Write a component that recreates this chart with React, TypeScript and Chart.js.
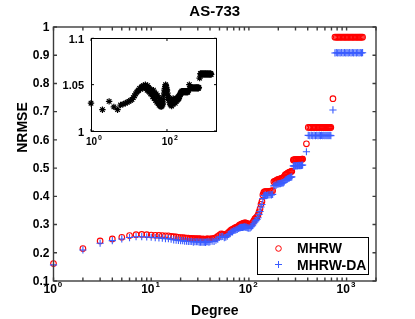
import React, { useEffect, useRef } from 'react';
import { Chart, registerables } from 'chart.js';

Chart.register(...registerables);

// ---------- data ----------
const degrees = [
  1, 2, 3, 4, 5, 6, 7, 8, 9, 10,
  11, 12, 13, 14, 15, 16, 17, 18, 19, 20,
  21, 22, 23, 24, 25, 26, 27, 28, 29, 30,
  31, 32, 33, 34, 35, 36, 37, 38, 39, 40,
  42, 44, 46, 48, 50, 52, 54, 56, 58, 60,
  62, 64, 66, 68, 70, 72, 74, 76, 78, 80,
  82, 84, 86, 88, 90, 92, 94, 96, 98, 100,
  103, 106, 109, 112, 115, 118, 121, 124, 127, 130,
  133, 136, 139, 142, 145, 148, 151, 155, 160, 165,
  170, 175, 180, 185, 190, 195, 200, 205, 210, 215,
  220, 225, 230, 235, 240, 245, 250, 255, 260, 265,
  270, 275, 285, 290, 295, 300, 305, 310, 315, 320,
  325, 330, 335, 340, 345, 350, 355, 388, 405, 420,
  435, 450, 465, 480, 495, 510, 525, 540, 555, 570,
  585, 600, 615, 630, 645, 660, 675, 690, 725, 760,
  785, 810, 835, 860, 890, 920, 950, 980, 1010, 1040,
  1075, 1110, 1145, 1180, 1220, 1260, 1300, 1340, 1380, 1420,
  1458,
];

const mhrw = [
  0.162, 0.215, 0.242, 0.249, 0.255, 0.261, 0.264, 0.265, 0.264, 0.263,
  0.262, 0.262, 0.261, 0.260, 0.260, 0.258, 0.257, 0.256, 0.255, 0.254,
  0.254, 0.253, 0.252, 0.252, 0.251, 0.251, 0.250, 0.250, 0.250, 0.249,
  0.250, 0.249, 0.248, 0.249, 0.248, 0.248, 0.249, 0.249, 0.248, 0.249,
  0.250, 0.251, 0.254, 0.258, 0.263, 0.267, 0.266, 0.264, 0.263, 0.268,
  0.272, 0.277, 0.281, 0.283, 0.286, 0.288, 0.290, 0.292, 0.294, 0.298,
  0.300, 0.302, 0.303, 0.304, 0.306, 0.306, 0.305, 0.303, 0.301, 0.300,
  0.300, 0.303, 0.307, 0.313, 0.320, 0.324, 0.327, 0.334, 0.345, 0.356,
  0.372, 0.382, 0.405, 0.414, 0.417, 0.417, 0.417, 0.417, 0.418, 0.418,
  0.419, 0.420, 0.452, 0.454, 0.456, 0.458, 0.460, 0.461, 0.462, 0.464,
  0.465, 0.466, 0.470, 0.476, 0.478, 0.480, 0.482, 0.484, 0.485, 0.487,
  0.488, 0.489, 0.529, 0.529, 0.530, 0.530, 0.530, 0.530, 0.530, 0.531,
  0.531, 0.531, 0.531, 0.531, 0.531, 0.532, 0.532, 0.586, 0.644, 0.644,
  0.644, 0.644, 0.644, 0.644, 0.644, 0.644, 0.644, 0.644, 0.644, 0.644,
  0.644, 0.644, 0.644, 0.644, 0.644, 0.644, 0.644, 0.644, 0.746, 0.964,
  0.964, 0.964, 0.964, 0.964, 0.964, 0.964, 0.964, 0.964, 0.964, 0.964,
  0.964, 0.964, 0.964, 0.964, 0.964, 0.964, 0.964, 0.964, 0.964, 0.964,
  0.964,
];

const mhrwDa = [
  0.157, 0.210, 0.234, 0.243, 0.249, 0.254, 0.257, 0.257, 0.256, 0.255,
  0.254, 0.253, 0.252, 0.250, 0.250, 0.248, 0.246, 0.245, 0.244, 0.243,
  0.243, 0.241, 0.241, 0.240, 0.240, 0.240, 0.238, 0.239, 0.239, 0.239,
  0.238, 0.238, 0.238, 0.238, 0.238, 0.237, 0.239, 0.239, 0.238, 0.239,
  0.241, 0.240, 0.245, 0.248, 0.255, 0.257, 0.258, 0.254, 0.255, 0.259,
  0.265, 0.268, 0.274, 0.274, 0.279, 0.279, 0.282, 0.283, 0.286, 0.288,
  0.289, 0.290, 0.290, 0.291, 0.292, 0.291, 0.291, 0.289, 0.288, 0.287,
  0.288, 0.292, 0.296, 0.303, 0.309, 0.314, 0.318, 0.324, 0.336, 0.346,
  0.362, 0.371, 0.392, 0.402, 0.403, 0.404, 0.403, 0.404, 0.405, 0.406,
  0.405, 0.407, 0.437, 0.439, 0.440, 0.443, 0.444, 0.445, 0.445, 0.447,
  0.448, 0.448, 0.451, 0.457, 0.459, 0.460, 0.463, 0.464, 0.465, 0.467,
  0.468, 0.469, 0.508, 0.507, 0.509, 0.508, 0.509, 0.508, 0.509, 0.509,
  0.510, 0.509, 0.510, 0.509, 0.510, 0.510, 0.511, 0.558, 0.616, 0.615,
  0.616, 0.615, 0.616, 0.615, 0.616, 0.615, 0.616, 0.615, 0.616, 0.615,
  0.616, 0.615, 0.616, 0.615, 0.616, 0.615, 0.616, 0.615, 0.706, 0.908,
  0.909, 0.908, 0.909, 0.908, 0.909, 0.908, 0.909, 0.908, 0.909, 0.908,
  0.909, 0.908, 0.909, 0.908, 0.909, 0.908, 0.909, 0.908, 0.909, 0.908,
  0.909,
];

// inset: MHRW / MHRW-DA ratio per degree
const ratio = [
  1.030, 1.023, 1.032, 1.026, 1.023, 1.028, 1.029, 1.030, 1.031, 1.032,
  1.033, 1.034, 1.036, 1.038, 1.040, 1.042, 1.043, 1.044, 1.046, 1.045,
  1.047, 1.048, 1.046, 1.049, 1.047, 1.048, 1.050, 1.046, 1.048, 1.044,
  1.049, 1.047, 1.043, 1.046, 1.042, 1.045, 1.040, 1.044, 1.041, 1.043,
  1.037, 1.044, 1.035, 1.041, 1.033, 1.040, 1.031, 1.038, 1.030, 1.036,
  1.028, 1.035, 1.027, 1.033, 1.026, 1.032, 1.027, 1.030, 1.029, 1.034,
  1.038, 1.041, 1.044, 1.046, 1.048, 1.050, 1.049, 1.047, 1.045, 1.044,
  1.041, 1.038, 1.036, 1.033, 1.035, 1.031, 1.029, 1.032, 1.028, 1.030,
  1.027, 1.031, 1.033, 1.029, 1.035, 1.031, 1.034, 1.031, 1.033, 1.030,
  1.034, 1.032, 1.035, 1.033, 1.036, 1.034, 1.037, 1.035, 1.038, 1.037,
  1.039, 1.040, 1.041, 1.042, 1.041, 1.043, 1.042, 1.043, 1.042, 1.043,
  1.042, 1.043, 1.042, 1.043, 1.042, 1.043, 1.042, 1.043, 1.042, 1.043,
  1.042, 1.043, 1.042, 1.043, 1.042, 1.043, 1.042, 1.050, 1.046, 1.047,
  1.046, 1.047, 1.046, 1.047, 1.046, 1.047, 1.046, 1.047, 1.046, 1.047,
  1.046, 1.047, 1.046, 1.047, 1.046, 1.047, 1.046, 1.047, 1.057, 1.062,
  1.061, 1.062, 1.061, 1.062, 1.061, 1.062, 1.061, 1.062, 1.061, 1.062,
  1.061, 1.062, 1.061, 1.062, 1.061, 1.062, 1.061, 1.062, 1.061, 1.062,
  1.061,
];

const titleText = 'AS-733';
const xTitle = 'Degree';
const yTitle = 'NRMSE';
const seriesNames = ['MHRW', 'MHRW-DA'];

const yTicks = [0.1, 0.2, 0.3, 0.4, 0.5, 0.6, 0.7, 0.8, 0.9, 1.0];
const yTickLabels = ['0.1', '0.2', '0.3', '0.4', '0.5', '0.6', '0.7', '0.8', '0.9', '1'];
const xDecades = [1, 10, 100, 1000];
const xExponents = ['0', '1', '2', '3'];

const insetYTicks = [1, 1.05, 1.1];
const insetYTickLabels = ['1', '1.05', '1.1'];
const insetXDecades = [1, 100];
const insetXExponents = ['0', '2'];

// ---------- styles ----------
const RED = '#ff0000';
const BLUE = '#3a5cff';
const FRAME = '#3c3c3c';
const FONT = '"Liberation Sans", Arial, Helvetica, sans-serif';

function logTickValues(max: number): number[] {
  const out: number[] = [];
  for (let p = 1; p <= max; p *= 10) {
    for (let m = 1; m <= 9; m++) {
      const v = m * p;
      if (v <= max) out.push(v);
    }
  }
  return out;
}

function drawPow10(ctx: CanvasRenderingContext2D, x: number, base: number, exp: string,
  size: number, expSize: number, rise: number, right: number) {
  ctx.textBaseline = 'alphabetic';
  ctx.font = `bold ${size}px ${FONT}`;
  ctx.textAlign = 'right';
  ctx.fillText('10', x + right, base);
  ctx.font = `bold ${expSize}px ${FONT}`;
  ctx.textAlign = 'left';
  ctx.fillText(exp, x + right + 1, base - rise);
}

const mainDecor = {
  id: 'mainDecor',
  afterDatasetsDraw(chart: any) {
    const { ctx, chartArea: a, scales } = chart;
    const xs = scales.x;
    const ys = scales.y;
    ctx.save();
    // frame + inward ticks
    ctx.strokeStyle = FRAME;
    ctx.lineWidth = 1.4;
    ctx.strokeRect(a.left, a.top, a.right - a.left, a.bottom - a.top);
    ctx.beginPath();
    for (const v of logTickValues(2000)) {
      const px = xs.getPixelForValue(v);
      ctx.moveTo(px, a.bottom); ctx.lineTo(px, a.bottom - 3.5);
      ctx.moveTo(px, a.top); ctx.lineTo(px, a.top + 3.5);
    }
    for (const v of yTicks) {
      const py = ys.getPixelForValue(v);
      ctx.moveTo(a.left, py); ctx.lineTo(a.left + 3.5, py);
      ctx.moveTo(a.right, py); ctx.lineTo(a.right - 3.5, py);
    }
    ctx.stroke();

    ctx.fillStyle = '#000';
    // y tick labels
    ctx.font = `bold 12px ${FONT}`;
    ctx.textAlign = 'right';
    ctx.textBaseline = 'middle';
    yTicks.forEach((v, i) => ctx.fillText(yTickLabels[i], a.left - 4, ys.getPixelForValue(v) + 0.5));
    // x tick labels
    xDecades.forEach((v, i) => drawPow10(ctx, xs.getPixelForValue(v), 292.7, xExponents[i], 12, 8, 6, 3.3));

    // title
    ctx.textAlign = 'center';
    ctx.textBaseline = 'alphabetic';
    ctx.font = `bold 15px ${FONT}`;
    ctx.fillText(titleText, (a.left + a.right) / 2, 15.7);
    // x title
    ctx.font = `bold 14px ${FONT}`;
    ctx.fillText(xTitle, (a.left + a.right) / 2, 315);
    // y title
    ctx.save();
    ctx.translate(26.5, 127.5);
    ctx.rotate(-Math.PI / 2);
    ctx.fillText(yTitle, 0, 0);
    ctx.restore();

    // legend
    const lx = 257.5, ly = 237.5, lw = 111, lh = 37;
    ctx.fillStyle = '#fff';
    ctx.fillRect(lx, ly, lw, lh);
    ctx.strokeStyle = '#000';
    ctx.lineWidth = 1;
    ctx.strokeRect(lx, ly, lw, lh);
    ctx.strokeStyle = RED;
    ctx.beginPath();
    ctx.arc(278.5, 248.5, 2.8, 0, Math.PI * 2);
    ctx.stroke();
    ctx.strokeStyle = BLUE;
    ctx.beginPath();
    ctx.moveTo(275, 264.5); ctx.lineTo(282, 264.5);
    ctx.moveTo(278.5, 261); ctx.lineTo(278.5, 268);
    ctx.stroke();
    ctx.fillStyle = '#000';
    ctx.font = `bold 14px ${FONT}`;
    ctx.textAlign = 'left';
    ctx.fillText(seriesNames[0], 297, 253.3);
    ctx.fillText(seriesNames[1], 297, 269.7);
    ctx.restore();
  },
};

const insetDecor = {
  id: 'insetDecor',
  beforeDatasetsDraw(chart: any) {
    const { ctx, chartArea: a } = chart;
    ctx.save();
    ctx.fillStyle = '#fff';
    ctx.fillRect(a.left, a.top, a.right - a.left, a.bottom - a.top);
    ctx.restore();
  },
  afterDatasetsDraw(chart: any) {
    const { ctx, chartArea: a, scales } = chart;
    const xs = scales.x;
    const ys = scales.y;
    ctx.save();
    ctx.strokeStyle = '#000';
    ctx.lineWidth = 1;
    const L = Math.round(a.left) + 0.5, R = Math.round(a.right) + 0.5;
    const T = Math.round(a.top) + 0.5, B = Math.round(a.bottom) + 0.5;
    ctx.strokeRect(L, T, R - L, B - T);
    ctx.beginPath();
    for (const v of insetXDecades) {
      const px = xs.getPixelForValue(v);
      ctx.moveTo(px, B); ctx.lineTo(px, B - 2.5);
      ctx.moveTo(px, T); ctx.lineTo(px, T + 2.5);
    }
    for (const v of insetYTicks) {
      const py = ys.getPixelForValue(v);
      ctx.moveTo(L, py); ctx.lineTo(L + 2.5, py);
      ctx.moveTo(R, py); ctx.lineTo(R - 2.5, py);
    }
    ctx.stroke();
    ctx.fillStyle = '#000';
    ctx.font = `bold 11px ${FONT}`;
    ctx.textAlign = 'right';
    ctx.textBaseline = 'middle';
    insetYTicks.forEach((v, i) => ctx.fillText(insetYTickLabels[i], a.left - 7, ys.getPixelForValue(v) + 1.5));
    insetXDecades.forEach((v, i) => drawPow10(ctx, xs.getPixelForValue(v), a.bottom + 14, insetXExponents[i], 10, 7, 5, 6));
    ctx.restore();
  },
};

export default function App() {
  const mainRef = useRef<HTMLCanvasElement | null>(null);
  const insetRef = useRef<HTMLCanvasElement | null>(null);

  useEffect(() => {
    if (!mainRef.current || !insetRef.current) return;
    const main = new Chart(mainRef.current, {
      type: 'scatter',
      data: {
        datasets: [
          {
            label: seriesNames[1],
            data: degrees.map((d, i) => ({ x: d, y: mhrwDa[i] })),
            pointStyle: 'cross',
            pointRadius: 3.6,
            borderColor: BLUE,
            backgroundColor: BLUE,
            borderWidth: 1.1,
            order: 0,
            clip: false,
          } as any,
          {
            label: seriesNames[0],
            data: degrees.map((d, i) => ({ x: d, y: mhrw[i] })),
            pointStyle: 'circle',
            pointRadius: 2.8,
            borderColor: RED,
            backgroundColor: 'rgba(0,0,0,0)',
            borderWidth: 1.1,
            order: 1,
            clip: false,
          } as any,
        ],
      },
      options: {
        responsive: false,
        animation: false,
        devicePixelRatio: 1,
        layout: { padding: { left: 53.5, right: 39, top: 27, bottom: 38 } },
        scales: {
          x: { type: 'logarithmic', min: 1, max: 2000, display: false },
          y: { type: 'linear', min: 0.1, max: 1.0, display: false },
        },
        plugins: { legend: { display: false }, tooltip: { enabled: false } },
        events: [],
      },
      plugins: [mainDecor],
    });

    const inset = new Chart(insetRef.current, {
      type: 'scatter',
      data: {
        datasets: [
          {
            label: 'MHRW / MHRW-DA',
            data: degrees.map((d, i) => ({ x: d, y: ratio[i] })),
            pointStyle: 'star',
            pointRadius: 3.2,
            borderColor: '#000',
            backgroundColor: '#000',
            borderWidth: 1.2,
            clip: false,
          } as any,
        ],
      },
      options: {
        responsive: false,
        animation: false,
        devicePixelRatio: 1,
        layout: { padding: { left: 41, right: 8.6, top: 8.3, bottom: 21 } },
        scales: {
          x: { type: 'logarithmic', min: 1, max: 2000, display: false },
          y: { type: 'linear', min: 1, max: 1.1, display: false },
        },
        plugins: { legend: { display: false }, tooltip: { enabled: false } },
        events: [],
      },
      plugins: [insetDecor],
    });

    return () => {
      main.destroy();
      inset.destroy();
    };
  }, []);

  return (
    <div style={{ position: 'fixed', left: 0, top: 0, width: 415, height: 319, background: '#fff' }}>
      <canvas ref={mainRef} width={415} height={319}
        style={{ position: 'absolute', left: 0, top: 0, width: 415, height: 319, display: 'block' }} />
      <canvas ref={insetRef} width={175} height={122}
        style={{ position: 'absolute', left: 50, top: 30, width: 175, height: 122, display: 'block' }} />
    </div>
  );
}
